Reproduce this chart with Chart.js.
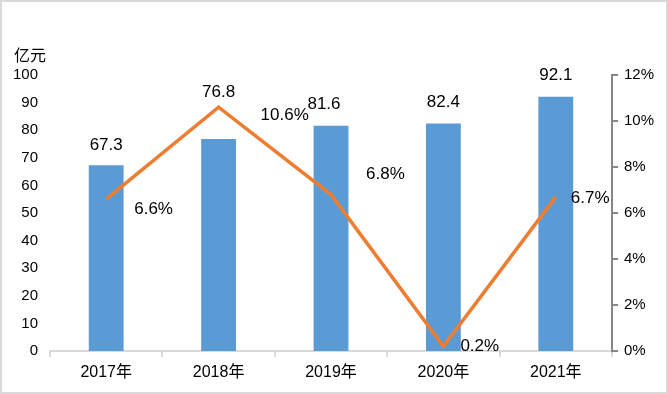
<!DOCTYPE html>
<html>
<head>
<meta charset="utf-8">
<script src="https://cdn.jsdelivr.net/npm/chart.js@4/dist/chart.umd.min.js"></script>
<style>
  html, body { margin: 0; padding: 0; background: #fff; }
  canvas { display: block; }
</style>
</head>
<body>
<canvas id="chart" width="668" height="394"></canvas>
<script>
const years = ['2017年', '2018年', '2019年', '2020年', '2021年'];
const revenue = [67.3, 76.8, 81.6, 82.4, 92.1];
const growth = [6.6, 10.6, 6.8, 0.2, 6.7];
const leftTicks = [0, 10, 20, 30, 40, 50, 60, 70, 80, 90, 100];
const rightTicks = [0, 2, 4, 6, 8, 10, 12];

// label nudges (px), as placed in the original
const barLabelShift = [[0, -20], [0, -47], [-7, -21], [0, -21], [0, -21]];
const lineLabelShift = [[28, 10], [42, 8], [35, -20], [17, 0], [15, 1]];

const labelFont = '17px "Liberation Sans", "Noto Sans CJK SC", sans-serif';

const frame = {
    id: 'frame',
    beforeDraw(chart) {
        const ctx = chart.ctx;
        ctx.save();
        ctx.fillStyle = '#fff';
        ctx.fillRect(0, 0, chart.width, chart.height);
        ctx.strokeStyle = '#d9d9d9';
        ctx.lineWidth = 2;
        ctx.strokeRect(1, 1, chart.width - 2, chart.height - 2);
        ctx.restore();
    }
};

const labelPlugin = {
    id: 'labels',
    afterDatasetsDraw(chart) {
        const ctx = chart.ctx;
        ctx.save();
        ctx.font = labelFont;
        ctx.fillStyle = '#000';
        ctx.textBaseline = 'middle';

        // bar values
        ctx.textAlign = 'center';
        chart.getDatasetMeta(0).data.forEach((bar, i) => {
            ctx.fillText(revenue[i].toFixed(1), bar.x + barLabelShift[i][0], bar.y + barLabelShift[i][1]);
        });

        // growth values
        ctx.textAlign = 'left';
        chart.getDatasetMeta(1).data.forEach((pt, i) => {
            ctx.fillText(growth[i].toFixed(1) + '%', pt.x + lineLabelShift[i][0], pt.y + lineLabelShift[i][1]);
        });

        // unit
        ctx.font = '16px "Noto Sans CJK SC", sans-serif';
        ctx.fillText('亿元', 14, 55);
        ctx.restore();
    }
};

new Chart(document.getElementById('chart'), {
    type: 'bar',
    data: {
        labels: years,
        datasets: [{
            type: 'bar',
            data: revenue,
            backgroundColor: '#5b9bd5',
            barPercentage: 0.31,
            categoryPercentage: 1,
            yAxisID: 'y',
            order: 2
        }, {
            type: 'line',
            data: growth,
            borderColor: '#ed7d31',
            borderWidth: 3.5,
            pointRadius: 0,
            tension: 0,
            yAxisID: 'y2',
            order: 1
        }]
    },
    options: {
        responsive: false,
        animation: false,
        devicePixelRatio: 1,
        layout: { padding: { top: 75, left: 0, right: 0, bottom: 0 } },
        plugins: {
            legend: { display: false },
            tooltip: { enabled: false }
        },
        scales: {
            x: {
                grid: {
                    offset: true,
                    drawOnChartArea: false,
                    drawTicks: true,
                    tickLength: 6,
                    color: '#d9d9d9',
                    lineWidth: 2
                },
                border: { display: true, color: '#d9d9d9', width: 2 },
                ticks: {
                    color: '#000',
                    padding: 6,
                    font: { family: '"Liberation Sans", "Noto Sans CJK SC", sans-serif', size: 16 }
                },
                afterFit(scale) { scale.height = 43; }
            },
            y: {
                position: 'left',
                min: 0,
                max: 100,
                afterBuildTicks(scale) { scale.ticks = leftTicks.map(v => ({ value: v })); },
                grid: { display: false, drawTicks: false },
                border: { display: false },
                ticks: {
                    color: '#000',
                    padding: 12,
                    font: { family: '"Liberation Sans", sans-serif', size: 15 }
                },
                afterFit(scale) { scale.width = 50; }
            },
            y2: {
                position: 'right',
                min: 0,
                max: 12,
                afterBuildTicks(scale) { scale.ticks = rightTicks.map(v => ({ value: v })); },
                grid: {
                    drawOnChartArea: false,
                    drawTicks: true,
                    tickLength: 6,
                    color: '#868686',
                    lineWidth: 2
                },
                border: { display: true, color: '#868686', width: 2 },
                ticks: {
                    color: '#000',
                    padding: 6,
                    callback: v => v + '%',
                    font: { family: '"Liberation Sans", sans-serif', size: 15 }
                },
                afterFit(scale) { scale.width = 56; }
            }
        }
    },
    plugins: [frame, labelPlugin]
});
</script>
</body>
</html>
